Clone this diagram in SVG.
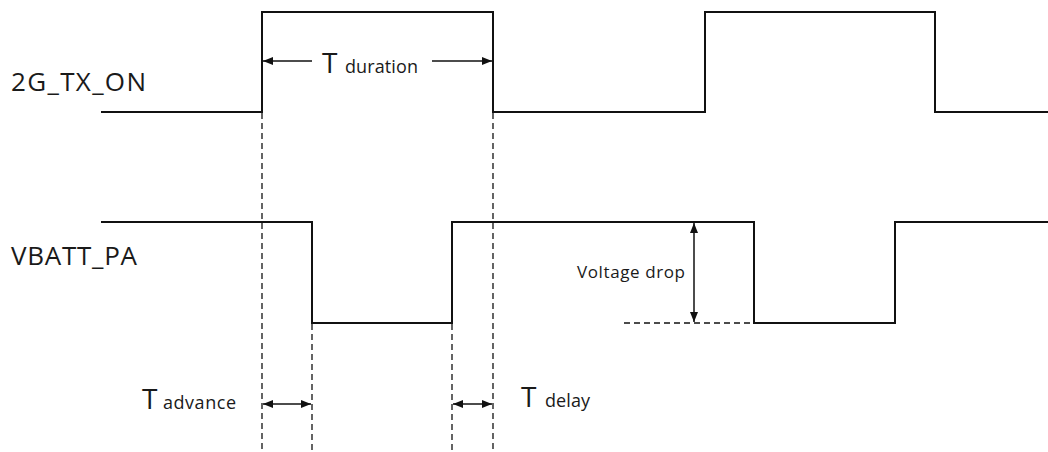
<svg xmlns="http://www.w3.org/2000/svg" width="1048" height="452" viewBox="0 0 1048 452">
<style>
.sig{fill:none;stroke:#111;stroke-width:2}
.dash{fill:none;stroke:#111;stroke-width:1.3;stroke-dasharray:6 4}
.dim{fill:none;stroke:#111;stroke-width:1.5}
.lbl{font-family:"Open Sans","Liberation Sans",sans-serif;fill:#1a1a1a}
</style>
<defs>
<marker id="ah" viewBox="0 0 10 8" refX="10" refY="4" markerWidth="10" markerHeight="8" markerUnits="userSpaceOnUse" orient="auto-start-reverse">
<path d="M0,0 L10,4 L0,8 Z" fill="#111"/>
</marker>
</defs>
<g id="signal-2g-tx-on">
<path class="sig" d="M101,112 H262 V12 H493 V112 H705 V12 H935 V112 H1048"/>
<text class="lbl" x="11" y="91" font-size="26" textLength="135">2G_TX_ON</text>
</g>
<g id="signal-vbatt-pa">
<path class="sig" d="M101,222 H312 V323 H452 V222 H754 V323 H895 V222 H1048"/>
<text class="lbl" x="11" y="265" font-size="26" textLength="126">VBATT_PA</text>
</g>
<g id="connectors">
<line class="dash" x1="262" y1="113" x2="262" y2="452"/>
<line class="dash" x1="493" y1="113" x2="493" y2="452"/>
<line class="dash" x1="312" y1="324" x2="312" y2="452"/>
<line class="dash" x1="452" y1="324" x2="452" y2="452"/>
<line class="dash" x1="624" y1="323" x2="752" y2="323"/>
<line class="dim" x1="312" y1="61" x2="263" y2="61" marker-end="url(#ah)"/>
<line class="dim" x1="432" y1="61" x2="492" y2="61" marker-end="url(#ah)"/>
<line class="dim" x1="263" y1="404" x2="311" y2="404" marker-start="url(#ah)" marker-end="url(#ah)"/>
<line class="dim" x1="453" y1="404" x2="492" y2="404" marker-start="url(#ah)" marker-end="url(#ah)"/>
<line class="dim" x1="694" y1="223" x2="694" y2="322" marker-start="url(#ah)" marker-end="url(#ah)"/>
</g>
<g id="label-t-duration">
<text class="lbl" x="322" y="73" font-size="28">T</text>
<text class="lbl" x="345" y="73" font-size="18" textLength="73">duration</text>
</g>
<g id="label-t-advance">
<text class="lbl" x="142" y="409" font-size="28">T</text>
<text class="lbl" x="163" y="409" font-size="18" textLength="73">advance</text>
</g>
<g id="label-t-delay">
<text class="lbl" x="521" y="407" font-size="28">T</text>
<text class="lbl" x="545" y="407" font-size="18" textLength="45">delay</text>
</g>
<g id="label-voltage-drop">
<text class="lbl" x="577" y="278" font-size="17" textLength="108">Voltage drop</text>
</g>
</svg>
